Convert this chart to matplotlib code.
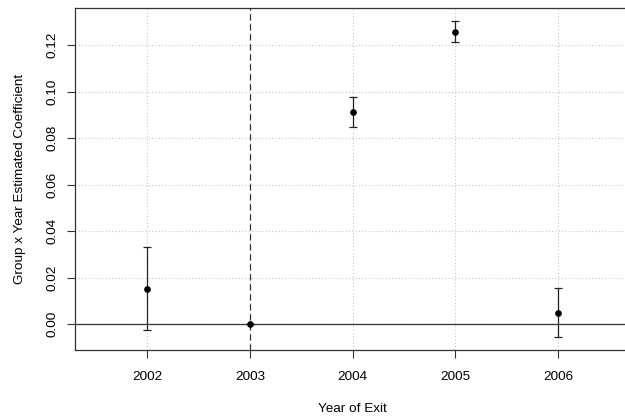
import matplotlib
matplotlib.use("Agg")
import matplotlib.pyplot as plt

plt.rcParams['font.family'] = ['Liberation Sans', 'DejaVu Sans']

# data
years = [2002, 2003, 2004, 2005, 2006]
coef = [0.0153, 0.0, 0.0912, 0.1259, 0.0050]
upper = [0.0331, 0.0, 0.0978, 0.1306, 0.0155]
lower = [-0.0025, 0.0, 0.0847, 0.1213, -0.0056]
yticks = [0.00, 0.02, 0.04, 0.06, 0.08, 0.10, 0.12]

err_lo = [c - l for c, l in zip(coef, lower)]
err_hi = [u - c for c, u in zip(coef, upper)]

fig = plt.figure(figsize=(6.25, 4.16), dpi=100)
ax = fig.add_axes([0.1205, 0.1594, 0.8875, 0.8206])

ax.grid(True, color='#c8c8c8', linestyle=(0, (1, 2)), linewidth=0.8)
ax.set_axisbelow(True)

ax.axhline(0, color='#333333', linewidth=0.9)
ax.axvline(2003, color='#333333', linewidth=0.9, linestyle=(0, (5, 3)))

ax.errorbar(years, coef, yerr=[err_lo, err_hi], fmt='o', color='black',
            ecolor='#222222', elinewidth=0.9, capsize=3, capthick=0.9,
            markersize=3.8)

ax.set_xlim(2001.3, 2006.7)
ax.set_ylim(-0.0109, 0.1359)
ax.set_xticks(years)
ax.set_yticks(yticks)
ax.set_yticklabels([f"{v:.2f}" for v in yticks], rotation=90, va='center')

for s in ax.spines.values():
    s.set_color('#333333')
    s.set_linewidth(0.9)

ax.tick_params(direction='out', length=6, width=0.8, color='#333333',
               labelsize=9.7, pad=9)
ax.tick_params(axis='y', pad=6)

ax.set_xlabel("Year of Exit", fontsize=9.7, labelpad=15)
ax.set_ylabel("Group x Year Estimated Coefficient", fontsize=9.7, labelpad=15)

fig.savefig("out.png", dpi=100)
